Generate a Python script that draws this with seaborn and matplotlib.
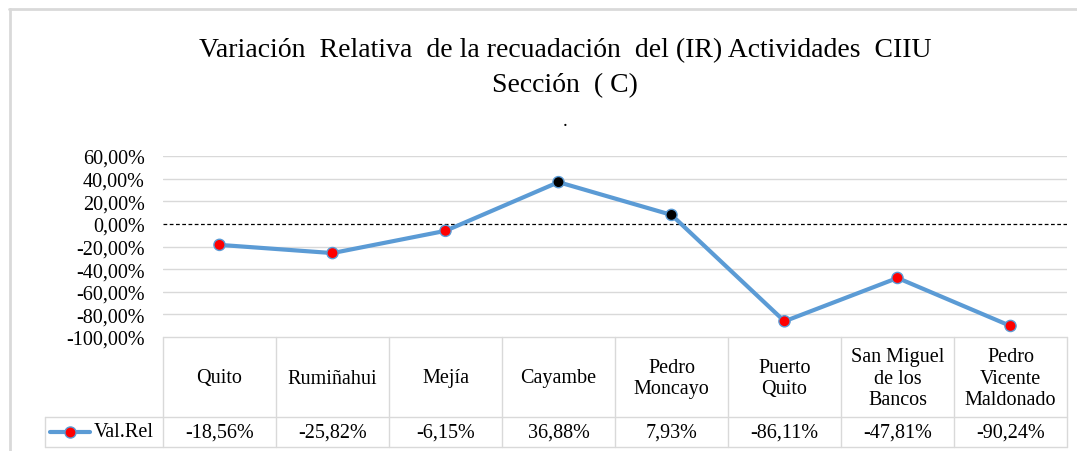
import numpy as np
import pandas as pd
import matplotlib
matplotlib.use('Agg')
import matplotlib.pyplot as plt
import seaborn as sns

# data
cantones = ['Quito', 'Rumiñahui', 'Mejía', 'Cayambe', 'Pedro\nMoncayo',
            'Puerto\nQuito', 'San Miguel\nde los\nBancos', 'Pedro\nVicente\nMaldonado']
val_rel = [-18.56, -25.82, -6.15, 36.88, 7.93, -86.11, -47.81, -90.24]
y_ticks = [60, 40, 20, 0, -20, -40, -60, -80, -100]
titulo = 'Variación  Relativa  de la recuadación  del (IR) Actividades  CIIU\nSección  ( C)'
serie = 'Val.Rel'

sns.set_style('white')
plt.rcParams['font.family'] = ['Liberation Serif', 'DejaVu Serif']
plt.rcParams['text.color'] = 'black'
plt.rcParams['ytick.color'] = 'black'

W, H = 1077, 452
fig = plt.figure(figsize=(W / 100, H / 100), dpi=100)

def fx(px):
    return px / W

def fy(py):
    return 1 - py / H

df = pd.DataFrame({'pos': np.arange(len(cantones)), 'val': np.array(val_rel) / 100})
df['signo'] = np.where(df['val'] >= 0, 'pos', 'neg')

blue = '#5B9BD5'
grid_c = '#D9D9D9'
fs = 14.5

# main plot area
ax = fig.add_axes([fx(163), fy(338), fx(1067) - fx(163), fy(157) - fy(338)])
sns.lineplot(data=df, x='pos', y='val', ax=ax, color=blue, linewidth=3, zorder=3)
sns.scatterplot(data=df, x='pos', y='val', hue='signo', ax=ax,
                palette={'pos': 'black', 'neg': '#FF0000'}, s=65,
                edgecolor=blue, linewidth=1, zorder=4, legend=False)
ax.set_xlim(-0.5, len(cantones) - 0.5)
ax.set_ylim(-1.0, 0.6)
ax.set_yticks([t / 100 for t in y_ticks])
ax.set_yticklabels([f'{t:.2f}'.replace('.', ',') + '%' for t in y_ticks], fontsize=fs)
ax.set_xticks([])
ax.tick_params(axis='y', length=0, pad=13)
for t in y_ticks:
    if t == 0:
        ax.axhline(0, color='black', linestyle=(0, (3, 2)), linewidth=0.9, zorder=2)
    elif t != -100:
        ax.axhline(t / 100, color=grid_c, linewidth=1, zorder=1)
for s in ax.spines.values():
    s.set_visible(False)
ax.set_xlabel('')
ax.set_ylabel('')

# data table below
tab = fig.add_axes([fx(163), fy(448), fx(1067) - fx(163), fy(338) - fy(448)])
tab.set_xlim(-0.5, len(cantones) - 0.5)
tab.set_ylim(0, 110)
tab.axis('off')
n = len(cantones)
left_leg = -0.5 - 118 / 113
lk = dict(color=grid_c, linewidth=1, clip_on=False)
tab.plot([-0.5, n - 0.5], [110, 110], **lk)
tab.plot([left_leg, n - 0.5], [30, 30], **lk)
tab.plot([left_leg, n - 0.5], [0, 0], **lk)
tab.plot([left_leg, left_leg], [0, 30], **lk)
for i in range(n + 1):
    tab.plot([i - 0.5, i - 0.5], [0, 110], **lk)
for i, (c, v) in enumerate(zip(cantones, val_rel)):
    tab.text(i, 69, c, ha='center', va='center', fontsize=fs, linespacing=1.2)
    tab.text(i, 15, f'{v:.2f}'.replace('.', ',') + '%', ha='center', va='center', fontsize=fs)
# legend key in the table
tab.plot([left_leg + 0.04, left_leg + 0.40], [15, 15], color=blue, linewidth=3, clip_on=False)
tab.plot([left_leg + 0.22], [15], marker='o', color='#FF0000', markeredgecolor=blue,
         markersize=8, clip_on=False)
tab.text(left_leg + 0.43, 15, serie, ha='left', va='center', fontsize=fs)

# title
fig.text(fx(565), fy(68), titulo, ha='center', va='center', fontsize=20, linespacing=1.5)
fig.text(fx(565), fy(122), '.', ha='center', va='center', fontsize=14)

# chart border (top and left)
fig.add_artist(plt.Line2D([fx(9), 1], [fy(10), fy(10)], color='#D9D9D9', linewidth=2))
fig.add_artist(plt.Line2D([fx(10), fx(10)], [fy(10), 0], color='#D9D9D9', linewidth=2))

fig.savefig('out.png', dpi=100)
